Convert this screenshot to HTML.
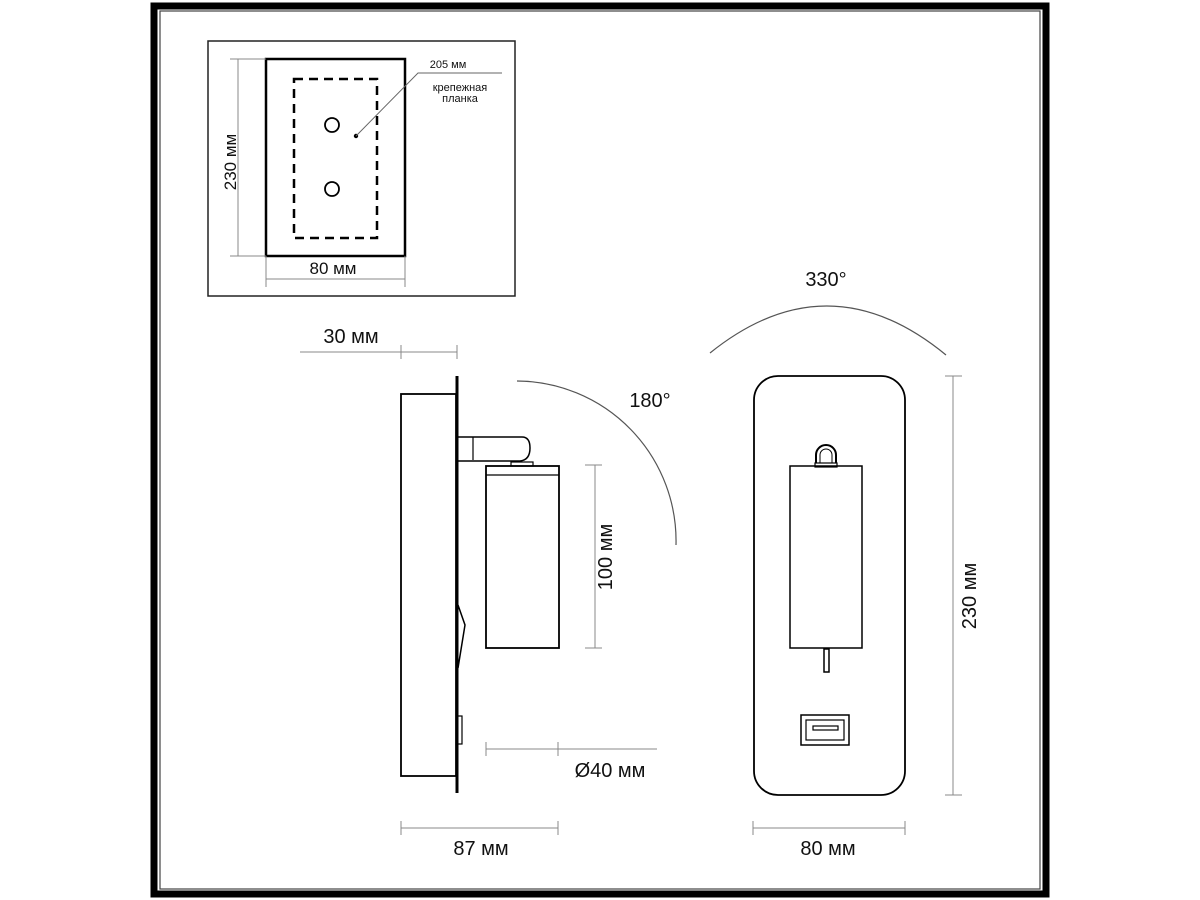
<!DOCTYPE html>
<html><head><meta charset="utf-8"><style>
html,body{margin:0;padding:0;background:#fff;}
svg{display:block;}
text{font-family:"Liberation Sans",sans-serif;fill:#111;}
</style></head><body>
<svg width="1200" height="900" viewBox="0 0 1200 900" xmlns="http://www.w3.org/2000/svg">
<!-- frame -->
<rect x="154" y="6" width="892" height="888" fill="none" stroke="#000" stroke-width="7"/>
<rect x="160" y="11" width="880" height="878" fill="none" stroke="#444" stroke-width="1.2"/>

<!-- inset -->
<rect x="208" y="41" width="307" height="255" fill="none" stroke="#222" stroke-width="1.5"/>
<rect x="266" y="59" width="139" height="197" fill="none" stroke="#000" stroke-width="2.5"/>
<rect x="294" y="79" width="83" height="159" fill="none" stroke="#000" stroke-width="2.5" stroke-dasharray="9,6"/>
<circle cx="332" cy="125" r="7" fill="none" stroke="#000" stroke-width="1.8"/>
<circle cx="332" cy="189" r="7" fill="none" stroke="#000" stroke-width="1.8"/>
<circle cx="356" cy="136" r="2.2" fill="#000"/>
<polyline points="356,136 418,73 502,73" fill="none" stroke="#666" stroke-width="1"/>
<text x="448" y="68" font-size="11" text-anchor="middle">205 мм</text>
<text x="460" y="91" font-size="11" text-anchor="middle">крепежная</text>
<text x="460" y="102" font-size="11" text-anchor="middle">планка</text>
<g stroke="#888" stroke-width="1">
<line x1="238" y1="59" x2="238" y2="256"/><line x1="230" y1="59" x2="266" y2="59"/><line x1="230" y1="256" x2="266" y2="256"/>
<line x1="266" y1="279" x2="405" y2="279"/><line x1="266" y1="256" x2="266" y2="287"/><line x1="405" y1="256" x2="405" y2="287"/>
</g>
<text transform="translate(236,162) rotate(-90)" font-size="17" text-anchor="middle">230 мм</text>
<text x="333" y="274" font-size="17" text-anchor="middle">80 мм</text>

<!-- side view -->
<g fill="none" stroke="#000">
<rect x="401" y="394" width="55" height="382" stroke-width="1.8"/>
<line x1="457" y1="376" x2="457" y2="793" stroke-width="3"/>
<path d="M458,437 L522,437 Q530,437 530,448 Q530,460 520,461 L458,461" stroke-width="1.5"/>
<line x1="473" y1="437" x2="473" y2="460" stroke-width="1.2"/>
<rect x="511" y="462" width="22" height="4" stroke-width="1.2"/>
<rect x="486" y="466" width="73" height="182" stroke-width="1.8"/>
<line x1="486" y1="475" x2="559" y2="475" stroke-width="1.2"/>
<path d="M458,605 L465,625 L458,668" stroke-width="1.5"/>
<rect x="457" y="716" width="5" height="28" stroke-width="1.2"/>
</g>
<path d="M517,381 A160,160 0 0 1 676,545" fill="none" stroke="#555" stroke-width="1.2"/>
<text x="650" y="407" font-size="20" text-anchor="middle">180°</text>
<g stroke="#888" stroke-width="1">
<line x1="300" y1="352" x2="457" y2="352"/><line x1="401" y1="345" x2="401" y2="359"/><line x1="457" y1="345" x2="457" y2="359"/>
<line x1="595" y1="465" x2="595" y2="648"/><line x1="585" y1="465" x2="602" y2="465"/><line x1="585" y1="648" x2="602" y2="648"/>
<line x1="486" y1="749" x2="657" y2="749"/><line x1="486" y1="742" x2="486" y2="756"/><line x1="558" y1="742" x2="558" y2="756"/>
<line x1="401" y1="828" x2="558" y2="828"/><line x1="401" y1="821" x2="401" y2="835"/><line x1="558" y1="821" x2="558" y2="835"/>
<line x1="753" y1="828" x2="905" y2="828"/><line x1="753" y1="821" x2="753" y2="835"/><line x1="905" y1="821" x2="905" y2="835"/>
<line x1="953" y1="376" x2="953" y2="795"/><line x1="945" y1="376" x2="962" y2="376"/><line x1="945" y1="795" x2="962" y2="795"/>
</g>
<text x="351" y="343" font-size="20" text-anchor="middle">30 мм</text>
<text transform="translate(612,557) rotate(-90)" font-size="20" text-anchor="middle">100 мм</text>
<text x="610" y="777" font-size="20" text-anchor="middle">Ø40 мм</text>
<text x="481" y="855" font-size="20" text-anchor="middle">87 мм</text>
<text x="828" y="855" font-size="20" text-anchor="middle">80 мм</text>
<text transform="translate(976,596) rotate(-90)" font-size="20" text-anchor="middle">230 мм</text>

<!-- front view -->
<path d="M710,353 Q828,258 946,355" fill="none" stroke="#555" stroke-width="1.2"/>
<text x="826" y="286" font-size="20" text-anchor="middle">330°</text>
<g fill="none" stroke="#000">
<rect x="754" y="376" width="151" height="419" rx="24" stroke-width="1.8"/>
<rect x="790" y="466" width="72" height="182" stroke-width="1.5"/>
<rect x="815" y="463" width="22" height="4" stroke-width="1.2"/>
<path d="M816,463 L816,455 A10,10 0 1 1 836,455 L836,463" stroke-width="2"/>
<path d="M820,463 L820,455 A6,6 0 1 1 832,455 L832,463" stroke-width="1"/>
<rect x="824" y="649" width="5" height="23" stroke-width="1.5"/>
<rect x="801" y="715" width="48" height="30" stroke-width="1.5"/>
<rect x="806" y="720" width="38" height="20" stroke-width="1.2"/>
<rect x="813" y="726" width="25" height="4" stroke-width="1.2"/>
</g>
</svg>
</body></html>
